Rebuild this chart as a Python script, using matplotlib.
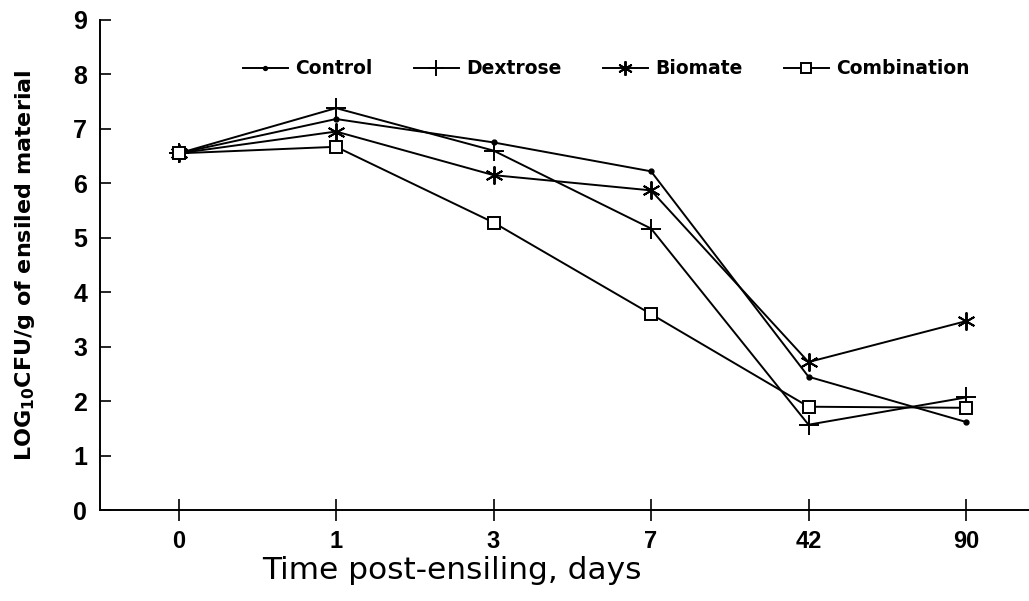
import numpy as np
import matplotlib
matplotlib.use('Agg')
from matplotlib import pyplot as plt

days = ['0', '1', '3', '7', '42', '90']
control = [6.55, 7.18, 6.75, 6.22, 2.45, 1.62]
dextrose = [6.55, 7.38, 6.6, 5.17, 1.57, 2.07]
biomate = [6.55, 6.95, 6.15, 5.87, 2.72, 3.47]
combination = [6.55, 6.67, 5.28, 3.6, 1.9, 1.88]
yticks = list(range(0, 10))

plt.rcParams['font.family'] = ['Liberation Sans', 'DejaVu Sans']

fig = plt.figure(figsize=(10.29, 6.01), dpi=100)
ax = fig.add_axes([0.097, 0.151, 0.903, 0.816])

x = np.arange(len(days))
ax.plot(x, control, color='black', lw=1.4, marker='o', ms=3.5, label='Control')
ax.plot(x, dextrose, color='black', lw=1.4, marker='+', ms=15, mew=1.4, label='Dextrose')
ax.plot(x, biomate, color='black', lw=1.4, marker=(6, 2, 0), ms=13, mew=1.4, label='Biomate')
ax.plot(x, combination, color='black', lw=1.4, marker='s', ms=9, mfc='white', mew=1.4,
        label='Combination')

ax.set_xlim(-0.5, 5.4)
ax.set_ylim(0, 9)
ax.set_xticks(x)
ax.set_xticklabels(days)
ax.set_yticks(yticks)
ax.spines['top'].set_visible(False)
ax.spines['right'].set_visible(False)
ax.spines['left'].set_linewidth(1.4)
ax.spines['bottom'].set_linewidth(1.4)
ax.tick_params(axis='x', direction='inout', length=16, width=1.2, labelsize=17, pad=6)
ax.tick_params(axis='y', direction='in', length=8, width=1.2, labelsize=18, pad=9)
for lab in ax.get_xticklabels() + ax.get_yticklabels():
    lab.set_fontweight('bold')

ax.set_xlabel('Time post-ensiling, days', fontsize=22.5, family='DejaVu Sans')
ax.xaxis.set_label_coords(0.379, -0.093)
ax.set_ylabel(r'LOG$_{\mathbf{10}}$CFU/g of ensiled material', fontsize=16,
              fontweight='bold', family='DejaVu Sans')
ax.yaxis.set_label_coords(-0.068, 0.5)

leg = ax.legend(ncol=4, loc='center', bbox_to_anchor=(0.545, 0.9), frameon=False,
                handlelength=2.4, columnspacing=2.2, handletextpad=0.4, markerscale=0.8,
                prop={'weight': 'bold', 'size': 13.5, 'family': 'DejaVu Sans'})

fig.savefig('out.png', dpi=100)
